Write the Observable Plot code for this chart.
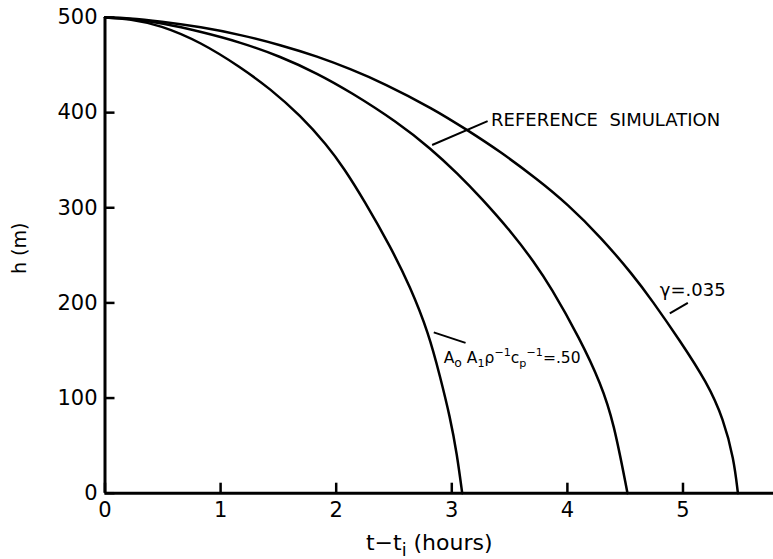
<!DOCTYPE html>
<html>
<head>
<meta charset="utf-8">
<script src="https://cdn.jsdelivr.net/npm/d3@7"></script>
<script src="https://cdn.jsdelivr.net/npm/@observablehq/plot@0.6"></script>
<style>
  html, body { margin: 0; padding: 0; background: #fff; }
  #chart svg { display: block; }
</style>
</head>
<body>
<div id="chart"></div>
<script>
// Mixed-layer height h (m) against time since onset t - t_i (hours)

// Run with A0 A1 rho^-1 cp^-1 = .50
const hoursA  = [0, 0.2, 0.48, 0.83, 1.17, 1.43, 1.69, 1.92, 2.07, 2.24, 2.47, 2.64, 2.80, 2.90, 2.985, 3.045, 3.09];
const heightA = [500, 499, 492, 474, 448, 425, 397, 366, 341, 308, 259, 217, 168, 122, 80, 41, 0];

// Reference simulation
const hoursRef  = [0, 0.2, 0.5, 0.83, 1.17, 1.52, 1.84, 2.12, 2.53, 2.82, 3.05, 3.25, 3.54, 3.71, 3.85, 4.11, 4.29, 4.40, 4.52];
const heightRef = [500, 499, 494, 485, 474, 459, 441, 422, 390, 362, 336, 311, 271, 243, 218, 162, 115, 75, 0];

// Run with gamma = .035
const hoursG  = [0, 0.2, 0.48, 0.83, 1.17, 1.52, 1.84, 2.12, 2.41, 2.84, 3.13, 3.42, 3.74, 4.0, 4.29, 4.57, 4.73, 4.97, 5.21, 5.35, 5.44, 5.475];
const heightG = [500, 499.5, 496, 490, 482, 471, 459, 446, 431, 404, 382, 359, 330, 304, 269, 229, 203, 161, 116, 78, 36, 0];

const xTicks = [0, 1, 2, 3, 4, 5];
const yTicks = [0, 100, 200, 300, 400, 500];

const curveLabels = ["REFERENCE  SIMULATION", "γ=.035", "A₀A₁ρ⁻¹cₚ⁻¹=.50"];
const xLabel = "t−tᵢ (hours)";
const yLabel = "h (m)";

const rows = (hours, heights) => hours.map((t, i) => ({t, h: heights[i]}));

// Label anchors and leader lines, in data units
const notes = [
  {text: curveLabels[0], t: 3.34, h: 392, t1: 2.83, h1: 366, t2: 3.31, h2: 391},
  {text: curveLabels[1], t: 4.80, h: 213, t1: 4.886, h1: 189, t2: 5.042, h2: 200},
  {text: curveLabels[2], t: 2.93, h: 142, t1: 2.844, h1: 169, t2: 3.119, h2: 158}
];

const W = 773, H = 559;
const M = {left: 104.5, right: 0, top: 17, bottom: 66.3};
const xMax = 5.783, yMax = 500;
const frameW = W - M.left - M.right;
const frameH = H - M.top - M.bottom;
const tick = 10; // inward tick length, px
const tickAlongY = tick * yMax / frameH;
const tickAlongX = tick * xMax / frameW;

const chart = Plot.plot({
  width: W,
  height: H,
  marginLeft: M.left,
  marginRight: M.right,
  marginTop: M.top,
  marginBottom: M.bottom,
  x: {domain: [0, xMax]},
  y: {domain: [0, yMax]},
  style: {fontFamily: "'DejaVu Sans', sans-serif", background: "white", color: "black"},
  marks: [
    Plot.axisX({ticks: xTicks, tickSize: 0, tickPadding: 9, fontSize: 21, label: null, tickFormat: d => String(d)}),
    Plot.axisY({ticks: yTicks, tickSize: 0, tickPadding: 7.5, fontSize: 21, label: null, tickFormat: d => String(d)}),
    // inward ticks
    Plot.ruleX(xTicks, {x: d => d, y1: 0, y2: tickAlongY, strokeWidth: 2.5}),
    Plot.ruleY(yTicks, {y: d => d, x1: 0, x2: tickAlongX, strokeWidth: 2.5}),
    Plot.ruleY([0], {strokeWidth: 3}),
    Plot.ruleX([0], {strokeWidth: 3}),
    Plot.line(rows(hoursA, heightA), {x: "t", y: "h", strokeWidth: 2.5, curve: "basis"}),
    Plot.line(rows(hoursRef, heightRef), {x: "t", y: "h", strokeWidth: 2.5, curve: "basis"}),
    Plot.line(rows(hoursG, heightG), {x: "t", y: "h", strokeWidth: 2.5, curve: "basis"}),
    Plot.link(notes, {x1: "t1", y1: "h1", x2: "t2", y2: "h2", strokeWidth: 2}),
    Plot.text(notes.slice(0, 2), {x: "t", y: "h", text: "text", textAnchor: "start", fontSize: 18}),
    Plot.text(notes.slice(2), {x: "t", y: "h", text: "text", textAnchor: "start", fontSize: 15.5}),
    Plot.text([yLabel], {text: d => d, frameAnchor: "left", textAnchor: "middle", lineAnchor: "middle", dx: -85, dy: -7, rotate: -90, fontSize: 19}),
    Plot.text([xLabel], {text: d => d, frameAnchor: "bottom", textAnchor: "middle", lineAnchor: "middle", dx: -10, dy: 50, fontSize: 22})
  ]
});

// Typeset sub- and superscripts as tspans
function typeset(svg, plain, parts, fontSize) {
  d3.select(svg).selectAll("text")
    .filter(function () { return this.textContent === plain; })
    .each(function () {
      const t = d3.select(this);
      t.text(null);
      let level = 0;
      for (const [s, kind, scale] of parts) {
        const target = kind === "sub" ? 0.28 * fontSize : kind === "sup" ? -0.45 * fontSize : 0;
        t.append("tspan")
          .attr("dy", (target - level) + "px")
          .attr("font-size", kind ? (scale || 0.72) * fontSize : fontSize)
          .text(s);
        level = target;
      }
    });
}

typeset(chart, curveLabels[2], [
  ["A"], ["o", "sub", 0.8], [" A"], ["1", "sub"], ["ρ"], ["−1", "sup"],
  ["c"], ["p", "sub"], ["−1", "sup"], ["=.50"]
], 15.5);
typeset(chart, xLabel, [["t−t"], ["i", "sub", 0.8], [" (hours)"]], 22);

document.getElementById("chart").appendChild(chart);
</script>
</body>
</html>
